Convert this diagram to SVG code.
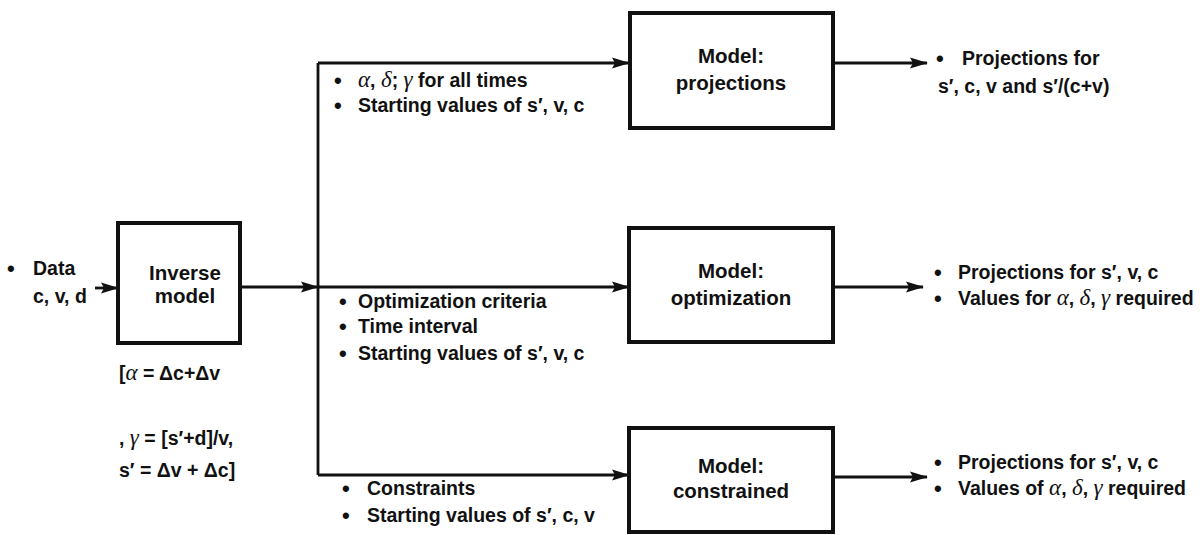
<svg xmlns="http://www.w3.org/2000/svg" width="1204" height="535" viewBox="0 0 1204 535">
<defs>
<marker id="ah" markerWidth="18" markerHeight="12" refX="17" refY="6" orient="auto" markerUnits="userSpaceOnUse">
<path d="M0,0.5 L18,6 L0,11.5 L3,6 Z" fill="#111"/>
</marker>
<style>
.box{fill:#fff;stroke:#111;stroke-width:4}
.ln{fill:none;stroke:#111;stroke-width:2.8}
.t{font-family:"Liberation Sans",Arial,sans-serif;font-size:19.5px;font-weight:bold;fill:#111}
.b{font-family:"Liberation Sans",Arial,sans-serif;font-size:20.5px;font-weight:bold;fill:#111;text-anchor:middle}
.g{font-family:"Liberation Serif","Times New Roman",serif;font-style:italic;font-weight:normal;font-size:23px}
.d{font-size:22px}
</style>
</defs>
<rect width="1204" height="535" fill="#fff"/>
<g id="connectors">
<line class="ln" x1="95" y1="288" x2="118" y2="288" marker-end="url(#ah)"/>
<line class="ln" x1="240" y1="287" x2="318" y2="287" marker-end="url(#ah)"/>
<line class="ln" x1="318" y1="287" x2="629" y2="287" marker-end="url(#ah)"/>
<polyline class="ln" points="318,63 318,475"/>
<line class="ln" x1="318" y1="63" x2="629" y2="63" marker-end="url(#ah)"/>
<line class="ln" x1="318" y1="475" x2="629" y2="475" marker-end="url(#ah)"/>
<line class="ln" x1="833" y1="63" x2="927" y2="63" marker-end="url(#ah)"/>
<line class="ln" x1="833" y1="287" x2="923" y2="287" marker-end="url(#ah)"/>
<line class="ln" x1="833" y1="477" x2="927" y2="477" marker-end="url(#ah)"/>
</g>
<g id="input-data">
<text class="t"><tspan class="d" x="7" y="276">•</tspan><tspan x="33" y="275">Data</tspan><tspan x="33" y="303">c, v, d</tspan></text>
</g>
<g id="inverse-model">
<rect class="box" x="118" y="223" width="122" height="120"/>
<text class="b" x="185" y="280">Inverse</text>
<text class="b" x="185" y="303">model</text>
</g>
<g id="formula">
<text class="t" x="119" y="380">[<tspan class="g">α</tspan> = Δc+Δv</text>
<text class="t" x="119" y="445">, <tspan class="g">γ</tspan> = [s′+d]/v,</text>
<text class="t" x="119" y="477">s′ = Δv + Δc]</text>
</g>
<g id="model-projections">
<rect class="box" x="630" y="13" width="203" height="115"/>
<text class="b" x="731" y="63">Model:</text>
<text class="b" x="731" y="90">projections</text>
</g>
<g id="model-optimization">
<rect class="box" x="629" y="228" width="204" height="114"/>
<text class="b" x="731" y="278">Model:</text>
<text class="b" x="731" y="305">optimization</text>
</g>
<g id="model-constrained">
<rect class="box" x="629" y="428" width="204" height="104"/>
<text class="b" x="731" y="473">Model:</text>
<text class="b" x="731" y="498">constrained</text>
</g>
<g id="label-projections-in">
<text class="t"><tspan class="d" x="334" y="88">•</tspan><tspan x="358" y="87"><tspan class="g">α</tspan>, <tspan class="g">δ</tspan>; <tspan class="g">γ</tspan> for all times</tspan></text>
<text class="t"><tspan class="d" x="334" y="113">•</tspan><tspan x="358" y="112">Starting values of s′, v, c</tspan></text>
</g>
<g id="label-optimization-in">
<text class="t"><tspan class="d" x="339" y="309">•</tspan><tspan x="358" y="308">Optimization criteria</tspan></text>
<text class="t"><tspan class="d" x="339" y="334">•</tspan><tspan x="358" y="333">Time interval</tspan></text>
<text class="t"><tspan class="d" x="339" y="361">•</tspan><tspan x="358" y="360">Starting values of s′, v, c</tspan></text>
</g>
<g id="label-constrained-in">
<text class="t"><tspan class="d" x="342" y="496">•</tspan><tspan x="367" y="495">Constraints</tspan></text>
<text class="t"><tspan class="d" x="342" y="523">•</tspan><tspan x="367" y="522">Starting values of s′, c, v</tspan></text>
</g>
<g id="output-projections">
<text class="t"><tspan class="d" x="936" y="66">•</tspan><tspan x="962" y="65">Projections for</tspan></text>
<text class="t" x="938" y="93">s′, c, v and s′/(c+v)</text>
</g>
<g id="output-optimization">
<text class="t"><tspan class="d" x="934" y="280">•</tspan><tspan x="958" y="279">Projections for s′, v, c</tspan></text>
<text class="t"><tspan class="d" x="934" y="306">•</tspan><tspan x="958" y="305">Values for <tspan class="g">α</tspan>, <tspan class="g">δ</tspan>, <tspan class="g">γ</tspan> required</tspan></text>
</g>
<g id="output-constrained">
<text class="t"><tspan class="d" x="934" y="470">•</tspan><tspan x="958" y="469">Projections for s′, v, c</tspan></text>
<text class="t"><tspan class="d" x="934" y="496">•</tspan><tspan x="958" y="495">Values of <tspan class="g">α</tspan>, <tspan class="g">δ</tspan>, <tspan class="g">γ</tspan> required</tspan></text>
</g>
</svg>
